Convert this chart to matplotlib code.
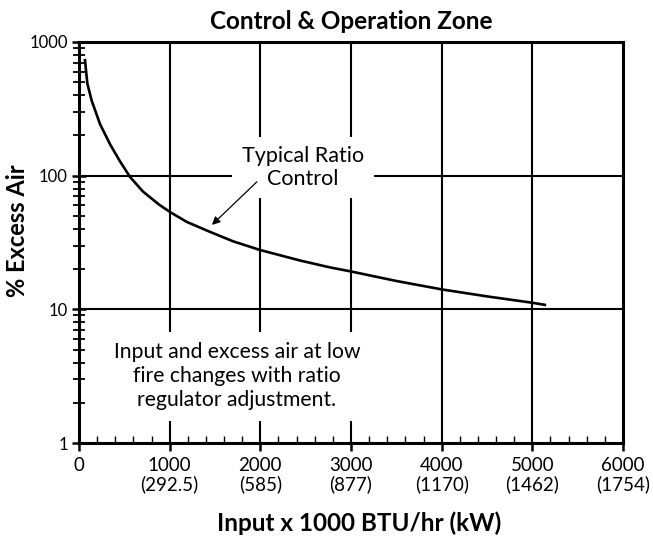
import matplotlib
matplotlib.use("Agg")
import matplotlib.pyplot as plt
from matplotlib.ticker import FixedLocator, NullFormatter

plt.rcParams['font.family'] = ['Lato', 'DejaVu Sans']

# curve (input x1000 BTU/hr, % excess air)
input_kbtu = [66, 92, 140, 232, 342, 452, 562, 706, 880, 1003, 1191, 1444,
              1698, 1996, 2437, 2767, 3000, 3500, 4000, 4500, 5000, 5138]
excess_air = [731, 489, 364, 243, 172, 128, 98, 76, 61, 53.5, 45, 38,
              32.3, 27.8, 23.2, 20.6, 19.2, 16.3, 14.1, 12.5, 11.2, 10.8]

x_ticks = [0, 1000, 2000, 3000, 4000, 5000, 6000]
x_tick_labels = ['0', '1000\n(292.5)', '2000\n(585)', '3000\n(877)',
                 '4000\n(1170)', '5000\n(1462)', '6000\n(1754)']
y_ticks = [1, 10, 100, 1000]
y_tick_labels = ['1', '10', '100', '1000']

fig = plt.figure(figsize=(6.53, 5.40), dpi=100)
ax = fig.add_axes([79/653, 97/540, 544/653, 401/540])

# grid lines (text boxes below mask parts of them, like the original)
for xv in x_ticks[1:-1]:
    ax.axvline(xv, color='black', lw=1.5, zorder=1)
for yv in y_ticks[1:-1]:
    ax.axhline(yv, color='black', lw=1.5, zorder=1)

ax.plot(input_kbtu, excess_air, color='black', lw=1.9, zorder=3)

ax.set_yscale('log')
ax.set_xlim(0, 6000)
ax.set_ylim(1, 1000)

ax.set_xticks(x_ticks)
ax.set_xticklabels(x_tick_labels, fontsize=13.5, linespacing=1.1)
ax.xaxis.set_minor_locator(FixedLocator(range(200, 6000, 200)))
ax.set_yticks(y_ticks)
ax.set_yticklabels(y_tick_labels, fontsize=12)
ax.yaxis.set_minor_locator(FixedLocator([m * 10**d for d in range(3) for m in range(2, 10)]))
ax.yaxis.set_minor_formatter(NullFormatter())

ax.tick_params(axis='x', which='major', direction='out', length=6, width=1.8, pad=4)
ax.tick_params(axis='x', which='minor', direction='in', length=5, width=1.0)
ax.tick_params(axis='y', which='major', direction='inout', length=10, width=1.8, pad=3)
ax.tick_params(axis='y', which='minor', direction='inout', length=9, width=1.3)

for s in ax.spines.values():
    s.set_linewidth(2.2)

ax.set_title('Control & Operation Zone', fontsize=17.5, fontweight='bold', pad=9)
ax.set_ylabel('% Excess Air', fontsize=17, fontweight='bold')
ax.yaxis.set_label_coords(-0.092, 0.53)
ax.set_xlabel('Input x 1000 BTU/hr (kW)', fontsize=17.5, fontweight='bold')
ax.xaxis.set_label_coords(0.515, -0.17)

ax.text(2470, 115, 'Typical Ratio\nControl', fontsize=15.5, ha='center', va='center',
        linespacing=1.15, zorder=4,
        bbox=dict(boxstyle='square,pad=0.45', fc='white', ec='none'))
ax.annotate('', xy=(1466, 42.8), xytext=(1962, 90), zorder=4,
            arrowprops=dict(arrowstyle='-|>', color='black', lw=0.9, mutation_scale=12,
                            shrinkA=0, shrinkB=0))

ax.text(1742, 3.16, 'Input and excess air at low\nfire changes with ratio\nregulator adjustment.',
        fontsize=15.2, ha='center', va='center', linespacing=1.25, zorder=4,
        bbox=dict(boxstyle='square,pad=0.5', fc='white', ec='none'))

fig.savefig('out.png', dpi=100)
